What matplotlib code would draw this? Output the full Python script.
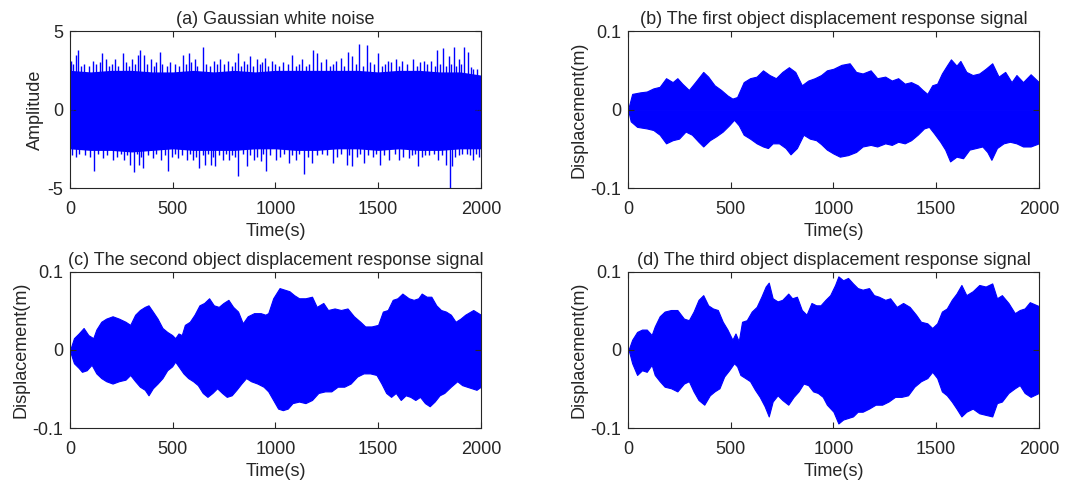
import numpy as np
import matplotlib
matplotlib.use('Agg')
import matplotlib.pyplot as plt

plt.rcParams['font.family'] = ['Liberation Sans', 'DejaVu Sans']
plt.rcParams['axes.unicode_minus'] = False

# ---- (a) Gaussian white noise: dense core band + visible spikes ----
a_core_t = [0, 100, 200, 300, 400, 500, 600, 700, 800, 900, 1000,
            1100, 1200, 1300, 1400, 1500, 1600, 1700, 1800, 1900, 2000]
a_core_up = [2.5, 2.4, 2.5, 2.5, 2.4, 2.4, 2.5, 2.4, 2.5, 2.4, 2.5,
             2.5, 2.5, 2.5, 2.5, 2.4, 2.5, 2.5, 2.4, 2.4, 2.2]
a_core_lo = [-2.5, -2.6, -2.6, -2.7, -2.6, -2.5, -2.6, -2.6, -2.6, -2.5, -2.5,
             -2.6, -2.6, -2.5, -2.5, -2.6, -2.5, -2.6, -2.6, -2.5, -2.5]
# tall spikes
a_spk_up_t = [6, 27, 41, 113, 157, 175, 219, 257, 301, 329, 343, 360, 395, 436,
              489, 552, 577, 606, 647, 700, 732, 771, 818, 849, 876, 912, 935,
              950, 981, 1080, 1130, 1181, 1201, 1244, 1296, 1319, 1351, 1374,
              1409, 1445, 1500, 1547, 1586, 1618, 1668, 1723, 1759, 1786, 1814,
              1843, 1869, 1893, 1916, 1937, 1963]
a_spk_up_v = [3.1, 3.5, 3.8, 3.1, 3.6, 3.2, 3.2, 3.6, 3.2, 3.5, 3.8, 3.5, 3.2, 3.7,
              3.0, 3.5, 3.6, 3.2, 4.0, 3.1, 3.2, 3.1, 3.6, 3.1, 3.4, 3.2, 3.0,
              3.3, 3.1, 3.5, 3.2, 3.8, 3.6, 3.2, 3.1, 3.3, 3.7, 3.4,
              4.2, 4.1, 3.6, 3.1, 3.2, 3.1, 3.2, 3.1, 3.1, 3.8, 3.9,
              3.4, 4.0, 3.2, 4.0, 3.7, 2.6]
a_spk_lo_t = [27, 116, 160, 207, 262, 293, 312, 335, 356, 403, 442, 478, 528, 567,
              599, 630, 657, 685, 708, 747, 774, 818, 860, 896, 928, 956,
              1005, 1064, 1099, 1138, 1178, 1280, 1347, 1374, 1429, 1508, 1555,
              1602, 1649, 1696, 1728, 1791, 1830, 1851, 1858, 1893, 1932, 1963, 1992]
a_spk_lo_v = [-3.0, -3.9, -3.1, -3.2, -3.2, -3.5, -4.0, -3.5, -3.7, -3.1, -3.2, -3.9, -3.1, -3.2,
              -3.2, -3.7, -3.5, -3.5, -3.6, -3.2, -3.2, -4.2, -3.6, -3.2, -3.3, -3.9,
              -3.2, -3.4, -3.2, -4.1, -3.4, -3.4, -3.5, -3.6, -3.4, -3.5, -3.2,
              -3.2, -3.1, -3.6, -2.9, -3.2, -3.5, -5.0, -3.6, -2.9, -2.8, -3.2, -3.0]
# medium spikes just above / below the dense band
a_mid_up_t = [15, 55, 70, 90, 128, 145, 190, 205, 235, 270, 285, 315, 375, 410,
              420, 450, 470, 510, 530, 565, 590, 620, 660, 680, 715, 750, 790,
              805, 830, 860, 890, 925, 965, 1000, 1015, 1035, 1060, 1100, 1115,
              1150, 1165, 1220, 1265, 1280, 1335, 1390, 1425, 1460, 1480, 1520,
              1535, 1565, 1600, 1640, 1690, 1705, 1740, 1775, 1800, 1830, 1855,
              1880, 1905, 1950, 1980]
a_mid_up_v = [2.9, 2.8, 2.9, 2.8, 2.9, 3.0, 2.8, 2.9, 2.8, 3.0, 2.8, 2.9, 2.9, 2.8,
              3.0, 2.9, 2.8, 2.9, 2.8, 2.9, 3.0, 2.8, 2.9, 2.8, 2.9, 2.9, 2.8,
              3.0, 2.8, 2.9, 2.8, 2.9, 2.8, 2.9, 2.8, 3.0, 2.9, 2.8, 2.9,
              2.8, 2.9, 3.0, 2.8, 2.9, 2.8, 2.9, 2.8, 3.0, 2.9, 2.8,
              2.9, 3.0, 2.8, 2.9, 2.8, 3.0, 2.9, 2.8, 2.9, 2.8, 2.9,
              2.8, 2.9, 2.7, 2.6]
a_mid_lo_t = [10, 45, 75, 95, 135, 180, 230, 250, 275, 325, 345, 380, 420, 460,
              495, 510, 545, 585, 615, 645, 670, 695, 725, 760, 790, 805, 840,
              875, 910, 940, 975, 1020, 1040, 1080, 1115, 1160, 1200, 1225, 1250,
              1300, 1320, 1360, 1395, 1410, 1450, 1475, 1490, 1530, 1580, 1620,
              1665, 1680, 1715, 1750, 1770, 1810, 1875, 1910, 1945, 1975]
a_mid_lo_v = [-2.9, -2.8, -2.9, -3.0, -2.8, -2.9, -3.0, -2.8, -2.9, -2.8, -3.0, -2.9, -2.8, -2.9,
              -3.0, -2.8, -2.9, -2.8, -3.0, -2.9, -2.8, -3.0, -2.9, -2.8, -2.9, -3.0, -2.8,
              -2.9, -3.0, -2.8, -2.9, -3.0, -2.8, -2.9, -2.8, -3.0, -2.9, -2.8, -2.9,
              -3.0, -2.8, -2.9, -3.0, -2.8, -2.9, -3.0, -2.8, -2.9, -2.8, -3.0,
              -2.9, -2.8, -3.0, -2.9, -2.8, -2.9, -3.0, -2.8, -2.9, -2.8]

# ---- (b) first object displacement envelope ----
b_up_t = [0, 20, 60, 91, 123, 154, 185, 217, 240, 264, 296, 327, 366, 390, 421,
          453, 484, 508, 531, 563, 594, 626, 657, 689, 720, 751, 783, 814, 846,
          877, 909, 940, 968, 1000, 1039, 1079, 1110, 1142, 1181, 1213, 1252,
          1284, 1315, 1347, 1378, 1410, 1434, 1457, 1481, 1505, 1528, 1552, 1572,
          1599, 1618, 1647, 1678, 1710, 1741, 1773, 1804, 1836, 1867, 1891, 1923,
          1960, 2000]
b_up_v = [0.0, 0.020, 0.022, 0.023, 0.027, 0.029, 0.040, 0.035, 0.040, 0.033, 0.025,
          0.035, 0.048, 0.042, 0.031, 0.025, 0.018, 0.014, 0.016, 0.035, 0.040,
          0.042, 0.050, 0.044, 0.040, 0.048, 0.054, 0.048, 0.031, 0.037, 0.040,
          0.044, 0.050, 0.052, 0.057, 0.059, 0.048, 0.046, 0.050, 0.040, 0.042,
          0.037, 0.040, 0.033, 0.035, 0.031, 0.025, 0.020, 0.031, 0.033, 0.046,
          0.056, 0.064, 0.056, 0.062, 0.048, 0.044, 0.046, 0.052, 0.059, 0.042,
          0.048, 0.035, 0.044, 0.035, 0.045, 0.035]
b_lo_t = [0, 13, 44, 91, 123, 154, 185, 217, 248, 280, 311, 343, 366, 398, 429,
          461, 492, 516, 539, 563, 594, 626, 657, 681, 704, 735, 767, 791, 822,
          854, 885, 916, 940, 968, 1000, 1031, 1071, 1110, 1142, 1181, 1213,
          1252, 1284, 1315, 1347, 1378, 1410, 1441, 1465, 1489, 1520, 1544, 1568,
          1599, 1631, 1662, 1694, 1725, 1749, 1769, 1796, 1828, 1859, 1891, 1923,
          1960, 2000]
b_lo_v = [0.0, -0.015, -0.022, -0.024, -0.026, -0.032, -0.043, -0.039, -0.037, -0.028,
          -0.032, -0.041, -0.047, -0.039, -0.034, -0.028, -0.020, -0.013, -0.020,
          -0.032, -0.037, -0.043, -0.047, -0.049, -0.043, -0.043, -0.049, -0.057,
          -0.049, -0.032, -0.037, -0.039, -0.044, -0.051, -0.056, -0.060, -0.058,
          -0.054, -0.047, -0.045, -0.047, -0.043, -0.045, -0.041, -0.043, -0.039,
          -0.032, -0.024, -0.022, -0.030, -0.041, -0.051, -0.066, -0.060, -0.062,
          -0.051, -0.049, -0.047, -0.054, -0.064, -0.049, -0.043, -0.041, -0.043,
          -0.047, -0.047, -0.043]

# ---- (c) second object displacement envelope ----
c_up_t = [0, 3, 19, 42, 66, 89, 113, 128, 152, 176, 207, 238, 270, 293, 317, 340,
          364, 382, 403, 426, 450, 473, 497, 512, 528, 544, 559, 583, 606, 630,
          653, 677, 700, 724, 747, 771, 794, 818, 841, 865, 896, 928, 951, 965,
          989, 1020, 1044, 1068, 1091, 1115, 1146, 1178, 1201, 1233, 1256, 1288,
          1319, 1351, 1382, 1413, 1437, 1468, 1500, 1523, 1547, 1571, 1594, 1618,
          1649, 1673, 1696, 1712, 1736, 1759, 1783, 1806, 1830, 1854, 1877, 1901,
          1924, 1963, 2000]
c_up_v = [0.0, 0.002, 0.015, 0.021, 0.028, 0.019, 0.015, 0.026, 0.036, 0.040, 0.043,
          0.040, 0.036, 0.032, 0.045, 0.051, 0.055, 0.057, 0.049, 0.040, 0.028,
          0.023, 0.019, 0.015, 0.021, 0.019, 0.032, 0.036, 0.045, 0.057, 0.060,
          0.066, 0.057, 0.055, 0.060, 0.064, 0.055, 0.049, 0.034, 0.043, 0.047,
          0.047, 0.045, 0.047, 0.066, 0.079, 0.077, 0.075, 0.070, 0.066, 0.066,
          0.068, 0.055, 0.060, 0.051, 0.053, 0.051, 0.053, 0.043, 0.036, 0.030,
          0.030, 0.032, 0.049, 0.051, 0.064, 0.066, 0.072, 0.066, 0.064, 0.066,
          0.072, 0.068, 0.068, 0.057, 0.051, 0.049, 0.045, 0.036, 0.040, 0.045,
          0.051, 0.045]
c_lo_t = [0, 3, 19, 42, 58, 81, 105, 128, 152, 176, 207, 238, 270, 293, 317, 340,
          364, 382, 403, 426, 450, 473, 497, 512, 528, 552, 575, 599, 622, 646,
          669, 693, 716, 740, 763, 787, 810, 834, 857, 881, 912, 942, 965, 989,
          1013, 1036, 1060, 1083, 1115, 1146, 1178, 1209, 1241, 1272, 1303, 1335,
          1366, 1398, 1429, 1461, 1492, 1516, 1539, 1563, 1586, 1610, 1634, 1657,
          1681, 1704, 1728, 1751, 1775, 1799, 1822, 1854, 1885, 1909, 1932, 1979,
          2000]
c_lo_v = [0.0, -0.004, -0.017, -0.023, -0.028, -0.026, -0.019, -0.030, -0.036, -0.040,
          -0.043, -0.040, -0.038, -0.032, -0.040, -0.047, -0.051, -0.058, -0.049,
          -0.043, -0.036, -0.026, -0.021, -0.015, -0.021, -0.030, -0.036, -0.040,
          -0.045, -0.055, -0.060, -0.055, -0.049, -0.055, -0.060, -0.058, -0.051,
          -0.043, -0.036, -0.040, -0.043, -0.047, -0.053, -0.064, -0.075, -0.077,
          -0.075, -0.068, -0.066, -0.068, -0.064, -0.055, -0.053, -0.053, -0.047,
          -0.047, -0.043, -0.034, -0.030, -0.030, -0.032, -0.043, -0.055, -0.060,
          -0.055, -0.064, -0.058, -0.060, -0.064, -0.060, -0.068, -0.072, -0.066,
          -0.058, -0.055, -0.047, -0.040, -0.045, -0.047, -0.051, -0.047]

# ---- (d) third object displacement envelope ----
d_up_t = [0, 5, 20, 44, 68, 91, 115, 130, 154, 178, 209, 240, 272, 296, 319, 343,
          366, 390, 413, 437, 461, 484, 508, 523, 539, 555, 578, 602, 626, 649,
          670, 685, 704, 728, 751, 780, 799, 822, 846, 869, 893, 916, 937, 961,
          984, 1008, 1024, 1047, 1071, 1095, 1118, 1142, 1173, 1197, 1221, 1252,
          1276, 1308, 1339, 1371, 1402, 1426, 1457, 1481, 1505, 1528, 1552, 1576,
          1599, 1623, 1647, 1678, 1710, 1741, 1773, 1796, 1820, 1852, 1883, 1907,
          1931, 1956, 2000]
d_up_v = [0.0, 0.002, 0.013, 0.023, 0.026, 0.026, 0.019, 0.030, 0.043, 0.049, 0.051,
          0.051, 0.040, 0.038, 0.049, 0.064, 0.070, 0.057, 0.053, 0.051, 0.036,
          0.026, 0.013, 0.021, 0.011, 0.036, 0.038, 0.049, 0.055, 0.068, 0.081,
          0.086, 0.066, 0.062, 0.064, 0.072, 0.066, 0.068, 0.051, 0.045, 0.060,
          0.057, 0.057, 0.064, 0.070, 0.083, 0.094, 0.089, 0.092, 0.085, 0.079,
          0.077, 0.079, 0.070, 0.068, 0.064, 0.066, 0.055, 0.060, 0.055, 0.045,
          0.036, 0.034, 0.028, 0.034, 0.049, 0.053, 0.064, 0.072, 0.083, 0.070,
          0.075, 0.083, 0.081, 0.085, 0.066, 0.070, 0.060, 0.047, 0.051, 0.053,
          0.061, 0.056]
d_lo_t = [0, 5, 20, 44, 68, 91, 115, 130, 154, 178, 209, 240, 272, 296, 319, 343,
          371, 398, 421, 445, 468, 492, 516, 531, 547, 571, 594, 618, 641, 665,
          685, 704, 728, 751, 780, 806, 830, 854, 877, 901, 924, 948, 968, 1000,
          1024, 1047, 1071, 1095, 1118, 1142, 1173, 1205, 1237, 1268, 1300, 1331,
          1363, 1394, 1426, 1457, 1481, 1505, 1528, 1552, 1576, 1599, 1623, 1647,
          1678, 1710, 1741, 1773, 1796, 1820, 1852, 1883, 1907, 1931, 1960, 2000]
d_lo_v = [0.0, -0.002, -0.017, -0.032, -0.026, -0.028, -0.019, -0.032, -0.040, -0.047,
          -0.049, -0.053, -0.043, -0.040, -0.053, -0.064, -0.070, -0.058, -0.053,
          -0.049, -0.034, -0.026, -0.017, -0.021, -0.032, -0.036, -0.040, -0.051,
          -0.060, -0.072, -0.085, -0.066, -0.058, -0.064, -0.070, -0.060, -0.053,
          -0.043, -0.045, -0.053, -0.055, -0.060, -0.070, -0.079, -0.094, -0.089,
          -0.087, -0.085, -0.079, -0.079, -0.075, -0.070, -0.070, -0.066, -0.060,
          -0.060, -0.058, -0.047, -0.040, -0.036, -0.028, -0.036, -0.053, -0.058,
          -0.066, -0.075, -0.085, -0.079, -0.075, -0.081, -0.083, -0.085, -0.068,
          -0.066, -0.055, -0.049, -0.045, -0.055, -0.060, -0.055]

titles = ['(a) Gaussian white noise',
          '(b) The first object displacement response signal',
          '(c) The second object displacement response signal',
          '(d) The third object displacement response signal']

BLUE = '#0000ff'
DARK = '#262626'
FS = 13

fig = plt.figure(figsize=(10.81, 4.86), dpi=100, facecolor='white')
rects = [[0.0648, 0.613, 0.380, 0.323], [0.581, 0.613, 0.380, 0.323],
         [0.0648, 0.119, 0.380, 0.322], [0.581, 0.119, 0.380, 0.322]]
axes = [fig.add_axes(r) for r in rects]


def style(ax, title, ylabel, ylim, yticks, yticklabels):
    ax.set_xlim(0, 2000)
    ax.set_ylim(*ylim)
    ax.set_xticks([0, 500, 1000, 1500, 2000])
    ax.set_yticks(yticks)
    ax.set_yticklabels(yticklabels)
    ax.tick_params(direction='in', top=True, right=True, length=4, width=0.8,
                   labelsize=FS, colors=DARK)
    ax.tick_params(axis='x', pad=9)
    ax.tick_params(axis='y', pad=5)
    for s in ax.spines.values():
        s.set_color(DARK)
        s.set_linewidth(0.8)
    ax.set_title(title, fontsize=FS, color=DARK, pad=5)
    ax.set_xlabel('Time(s)', fontsize=FS, color=DARK, labelpad=4)
    ax.set_ylabel(ylabel, fontsize=FS, color=DARK, labelpad=2)


# (a)
ax = axes[0]
ax.fill_between(a_core_t, a_core_lo, a_core_up, color=BLUE, lw=0)
ax.vlines(a_mid_up_t, 0, a_mid_up_v, color=BLUE, lw=1.0)
ax.vlines(a_mid_lo_t, a_mid_lo_v, 0, color=BLUE, lw=1.0)
ax.vlines(a_spk_up_t, 0, a_spk_up_v, color=BLUE, lw=1.0)
ax.vlines(a_spk_lo_t, a_spk_lo_v, 0, color=BLUE, lw=1.0)
style(ax, titles[0], 'Amplitude', (-5, 5), [-5, 0, 5], ['-5', '0', '5'])

# (b), (c), (d)
env = [(b_up_t, b_up_v, b_lo_t, b_lo_v),
       (c_up_t, c_up_v, c_lo_t, c_lo_v),
       (d_up_t, d_up_v, d_lo_t, d_lo_v)]
for ax, title, (ut, uv, lt, lv) in zip(axes[1:], titles[1:], env):
    ax.fill_between(ut, 0, uv, color=BLUE, lw=0.8, edgecolor=BLUE)
    ax.fill_between(lt, lv, 0, color=BLUE, lw=0.8, edgecolor=BLUE)
    style(ax, title, 'Displacement(m)', (-0.1, 0.1), [-0.1, 0, 0.1],
          ['-0.1', '0', '0.1'])

plt.savefig('out.png', dpi=100, facecolor='white')
